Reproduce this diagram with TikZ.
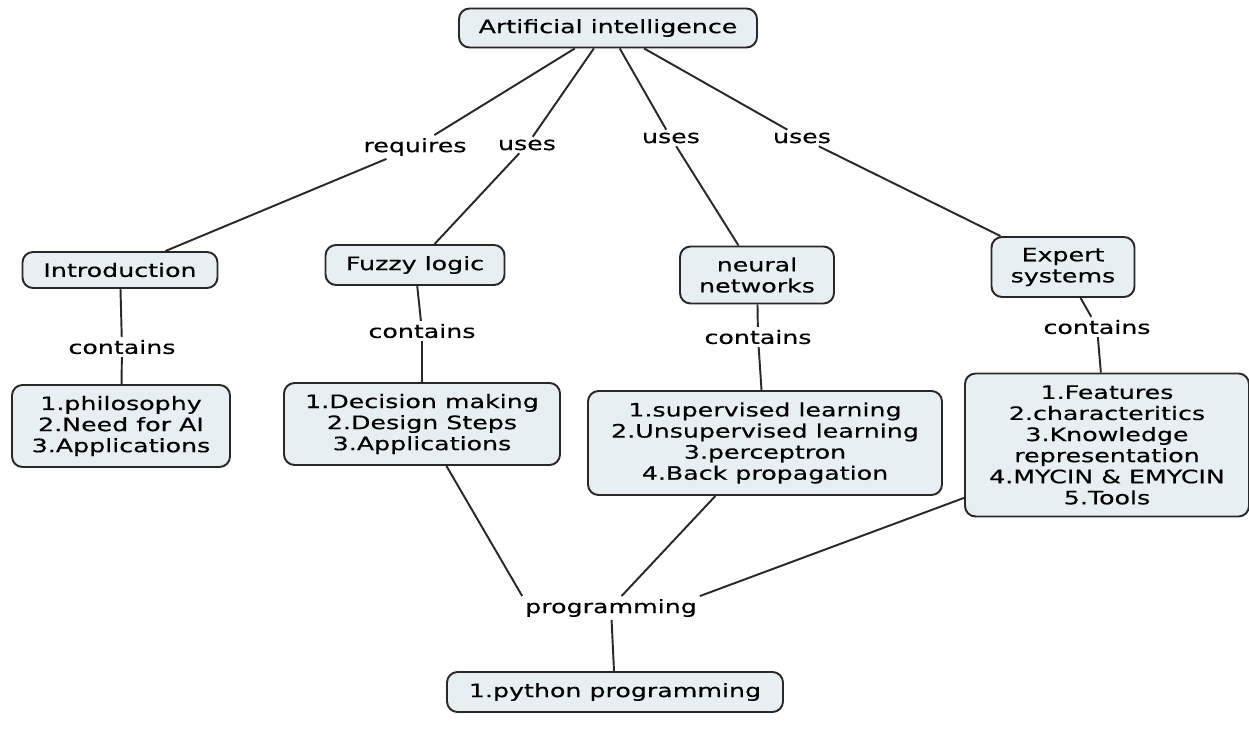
\documentclass[tikz,border=0pt]{standalone}
\usepackage{fontspec}
\setmainfont{DejaVu Sans}[FakeStretch=1.37, FakeBold=0.4]
\usepackage{xcolor}

\definecolor{boxfill}{RGB}{232,239,242}
\definecolor{boxline}{RGB}{40,40,40}

\begin{document}
\begin{tikzpicture}[
    font=\fontsize{10.5}{12}\selectfont,
    concept/.style={draw=boxline, line width=1.1pt, fill=boxfill, rounded corners=6pt, align=center, inner sep=2pt},
    linkword/.style={inner sep=1.5pt},
    link/.style={line width=1.1pt, draw=boxline}
]
    \useasboundingbox (0,0) rectangle (24.98,14.84);

    % main topic
    \node[concept, minimum width=5.96cm, minimum height=0.78cm] (ai) at (12.16,14.28) {Artificial intelligence};

    % sub topics
    \node[concept, minimum width=3.90cm, minimum height=0.72cm] (intro) at (2.40,9.44) {Introduction};
    \node[concept, minimum width=3.58cm, minimum height=0.80cm] (fuzzy) at (8.30,9.54) {Fuzzy logic};
    \node[concept, minimum width=3.08cm, minimum height=1.14cm] (neural) at (15.14,9.34) {neural\\networks};
    \node[concept, minimum width=2.86cm, minimum height=1.20cm] (expert) at (21.26,9.50) {Expert\\systems};

    % contents
    \node[concept, minimum width=4.36cm, minimum height=1.64cm] (introlist) at (2.42,6.32) {1.philosophy\\2.Need for AI\\3.Applications};
    \node[concept, minimum width=5.52cm, minimum height=1.64cm] (fuzzylist) at (8.44,6.36) {1.Decision making\\2.Design Steps\\3.Applications};
    \node[concept, minimum width=7.08cm, minimum height=2.08cm] (neurallist) at (15.30,5.98) {1.supervised learning\\2.Unsupervised learning\\3.perceptron\\4.Back propagation};
    \node[concept, minimum width=5.68cm, minimum height=2.86cm] (expertlist) at (22.14,5.94) {1.Features\\2.characteritics\\3.Knowledge\\representation\\4.MYCIN \& EMYCIN\\5.Tools};
    \node[concept, minimum width=6.72cm, minimum height=0.80cm] (python) at (12.30,1.00) {1.python programming};

    % linking words
    \node[linkword] (req) at (8.30,11.90) {requires};
    \node[linkword] (usesf) at (10.54,11.94) {uses};
    \node[linkword] (usesn) at (13.42,12.08) {uses};
    \node[linkword] (usese) at (16.04,12.08) {uses};
    \node[linkword] (cintro) at (2.44,7.90) {contains};
    \node[linkword] (cfuzzy) at (8.44,8.22) {contains};
    \node[linkword] (cneural) at (15.16,8.10) {contains};
    \node[linkword] (cexpert) at (21.94,8.30) {contains};
    \node[linkword] (prog) at (12.22,2.68) {programming};

    % connectors
    \draw[link] (ai) -- (req);
    \draw[link] (req) -- (intro);
    \draw[link] (ai) -- (usesf);
    \draw[link] (usesf) -- (fuzzy);
    \draw[link] (ai) -- (usesn);
    \draw[link] (usesn) -- (neural);
    \draw[link] (ai) -- (usese);
    \draw[link] (usese) -- (expert);

    \draw[link] (intro) -- (cintro);
    \draw[link] (cintro) -- (introlist);
    \draw[link] (fuzzy) -- (cfuzzy);
    \draw[link] (cfuzzy) -- (fuzzylist);
    \draw[link] (neural) -- (cneural);
    \draw[link] (cneural) -- (neurallist);
    \draw[link] (expert) -- (cexpert);
    \draw[link] (cexpert) -- (expertlist);

    \draw[link] (fuzzylist) -- (prog.north west);
    \draw[link] (neurallist) -- ([xshift=6pt]prog.north);
    \draw[link] (expertlist) -- (prog.north east);
    \draw[link] (prog) -- (python);
\end{tikzpicture}
\end{document}
